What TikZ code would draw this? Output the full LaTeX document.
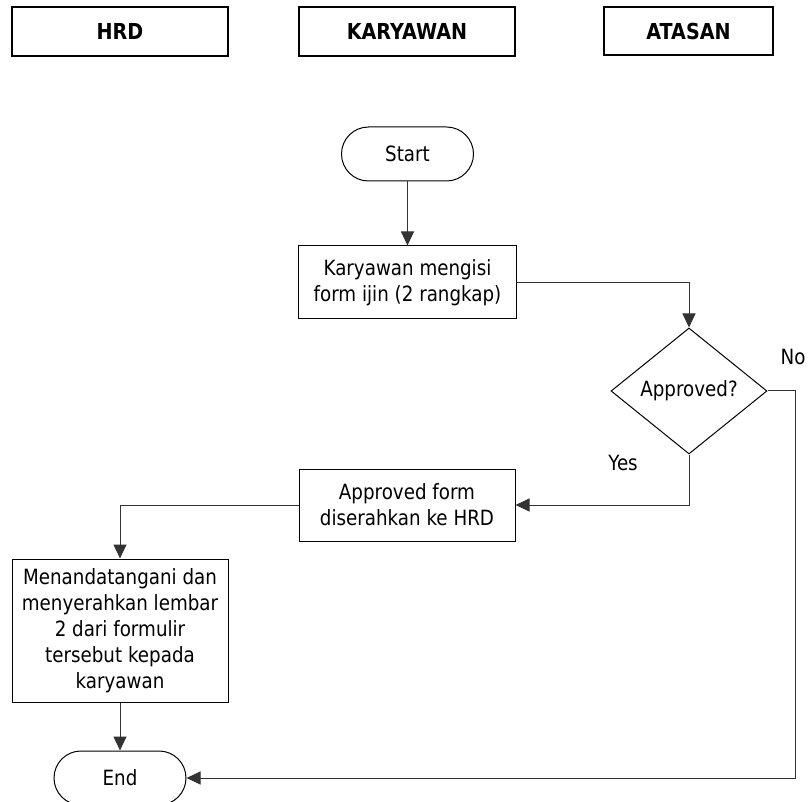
\documentclass[tikz,border=0pt]{standalone}
\usepackage{fontspec}
\setmainfont{DejaVu Sans}[FakeStretch=0.87]
\usetikzlibrary{shapes.geometric,arrows.meta}
\begin{document}
\begin{tikzpicture}[x=1pt,y=-1pt,
  txt/.style={font=\fontsize{21}{26}\selectfont},
  header/.style={draw, line width=2pt, minimum width=216pt, minimum height=49pt, inner sep=0pt, font=\fontsize{22}{26}\selectfont\bfseries},
  proc/.style={draw, line width=1pt, inner sep=0pt, align=center, txt},
  term/.style={draw, line width=1pt, rounded corners=27pt, minimum width=132pt, minimum height=54pt, inner sep=0pt, txt},
  decision/.style={draw, diamond, line width=1pt, minimum width=156pt, minimum height=126pt, inner sep=0pt, txt},
  lbl/.style={inner sep=0pt, txt},
  arr/.style={line width=1pt, draw=black!80, -{Triangle[length=14pt,width=13pt]}}]
\useasboundingbox (0,0) rectangle (809,802);

\node[header] (hrd) at (120,31.5) {HRD};
\node[header] (kary) at (407,31.5) {KARYAWAN};
\node[header, minimum width=169pt, minimum height=48pt] (atas) at (688.5,31) {ATASAN};

\node[term] (start) at (407.5,154) {Start};
\node[proc, minimum width=218pt, minimum height=73pt] (fill) at (407.5,282.5) {Karyawan mengisi\\form ijin (2 rangkap)};
\node[decision] (dec) at (689,391) {Approved?};
\node[proc, minimum width=216pt, minimum height=72pt] (appr) at (407,505) {Approved form\\diserahkan ke HRD};
\node[proc, minimum width=216pt, minimum height=143pt] (sign) at (120,630.5) {Menandatangani dan\\menyerahkan lembar\\2 dari formulir\\tersebut kepada\\karyawan};
\node[term] (end) at (120,778) {End};

\node[lbl] (no) at (793,357) {No};
\node[lbl] (yes) at (623,463) {Yes};

\coordinate (nocorner) at (795,778);

\draw[arr] (start.south) -- (fill.north);
\draw[arr] (fill.east) -| (dec.north);
\draw[arr] (dec.south) |- (appr.east);
\draw[arr] (appr.west) -| (sign.north);
\draw[arr] (sign.south) -- (end.north);
\draw[arr] (dec.east) -| (nocorner) -- (end.east);
\end{tikzpicture}
\end{document}
